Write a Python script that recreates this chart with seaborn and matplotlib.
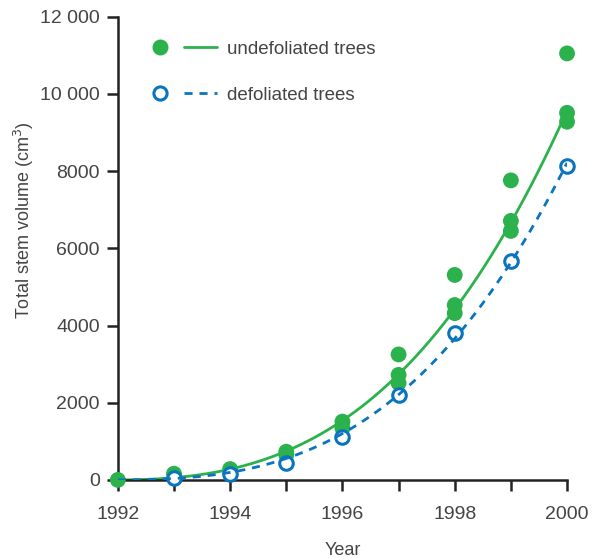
import numpy as np
import pandas as pd
import matplotlib
matplotlib.use("Agg")
import matplotlib.pyplot as plt
import seaborn as sns
from matplotlib.lines import Line2D
from matplotlib.legend_handler import HandlerTuple

# Measured stem volumes (cm^3) per year
undef_years = [1992, 1993, 1994, 1995, 1995, 1996, 1996,
               1997, 1997, 1997, 1998, 1998, 1998,
               1999, 1999, 1999, 2000, 2000, 2000]
undef_volume = [0, 160, 280, 730, 650, 1510, 1340,
                3250, 2720, 2510, 5310, 4530, 4320,
                7760, 6710, 6450, 11050, 9510, 9280]

def_years = [1993, 1994, 1995, 1996, 1997, 1998, 1999, 2000]
def_volume = [40, 160, 440, 1110, 2190, 3810, 5680, 8140]

x_ticks = list(range(1992, 2001))
x_tick_labels = ["1992", "", "1994", "", "1996", "", "1998", "", "2000"]
y_ticks = [0, 2000, 4000, 6000, 8000, 10000, 12000]
y_tick_labels = ["0", "2000", "4000", "6000", "8000", "10 000", "12 000"]

GREEN = "#2bb24c"
BLUE = "#0a74bf"
TEXT = "#444444"
DASH = (0, (2.9, 2.5))

sns.set_style("white")
plt.rcParams["font.family"] = ["Liberation Sans", "DejaVu Sans"]

undef = pd.DataFrame({"year": undef_years, "volume": undef_volume})
defo = pd.DataFrame({"year": def_years, "volume": def_volume})


def growth_curve(years, vols, t):
    """Cubic growth curve a*x^3 + b*x^2 (zero in 1992) fitted to yearly medians."""
    med = (pd.DataFrame({"year": years, "volume": vols})
           .groupby("year")["volume"].median())
    x = med.index.to_numpy(float) - 1992
    A = np.column_stack([x ** 3, x ** 2])
    coef, *_ = np.linalg.lstsq(A, med.to_numpy(float), rcond=None)
    xt = t - 1992
    return coef[0] * xt ** 3 + coef[1] * xt ** 2


t = np.linspace(1992, 2000, 200)
curves = pd.DataFrame({
    "year": t,
    "undef": growth_curve(undef_years, undef_volume, t),
    "def": growth_curve(def_years, def_volume, t),
})

fig = plt.figure(figsize=(5.95, 5.58), dpi=100)
ax = fig.add_axes([0.198, 0.140, 0.755, 0.83])

sns.lineplot(data=curves, x="year", y="undef", color=GREEN, lw=2, ax=ax, zorder=2)
sns.scatterplot(data=undef, x="year", y="volume", color=GREEN, s=130,
                edgecolor="none", ax=ax, zorder=3, clip_on=False)
sns.scatterplot(data=defo, x="year", y="volume", facecolor="white", s=95,
                edgecolor=BLUE, linewidth=2.2, ax=ax, zorder=4, clip_on=False)
sns.lineplot(data=curves, x="year", y="def", color=BLUE, lw=2, ax=ax,
             linestyle=DASH, zorder=5)

ax.set_xlim(1992, 2000)
ax.set_ylim(0, 12000)
ax.set_xticks(x_ticks)
ax.set_xticklabels(x_tick_labels)
ax.set_yticks(y_ticks)
ax.set_yticklabels(y_tick_labels)
ax.tick_params(axis="both", direction="out", length=8, width=1.8, color="#222222",
               labelsize=14, labelcolor=TEXT, bottom=True, left=True)
ax.tick_params(axis="x", pad=11)
ax.tick_params(axis="y", pad=5)
for side in ("top", "right"):
    ax.spines[side].set_visible(False)
for side in ("left", "bottom"):
    ax.spines[side].set_linewidth(1.8)
    ax.spines[side].set_color("#222222")

ax.set_xlabel("Year", fontsize=13, color=TEXT)
ax.xaxis.set_label_coords(0.5, -0.134)
ax.set_ylabel("Total stem volume (cm$^3$)", fontsize=13, color=TEXT)
ax.yaxis.set_label_coords(-0.182, 0.56)

h_undef = (Line2D([], [], marker="o", ls="none", color=GREEN, markersize=11.5,
                  markeredgecolor="none"),
           Line2D([], [], color=GREEN, lw=2))
h_def = (Line2D([], [], marker="o", ls="none", markerfacecolor="white",
                markeredgecolor=BLUE, markeredgewidth=2.2, markersize=9.5),
         Line2D([], [], color=BLUE, lw=2, ls=DASH))
leg = ax.legend([h_undef, h_def], ["undefoliated trees", "defoliated trees"],
                handler_map={tuple: HandlerTuple(ndivide=None, pad=0.4)},
                loc="upper left", bbox_to_anchor=(0.02, 0.985), frameon=False,
                handlelength=3.9, handletextpad=0.55, labelspacing=1.55,
                fontsize=13.5)
for txt in leg.get_texts():
    txt.set_color(TEXT)

fig.savefig("out.png", dpi=100)
